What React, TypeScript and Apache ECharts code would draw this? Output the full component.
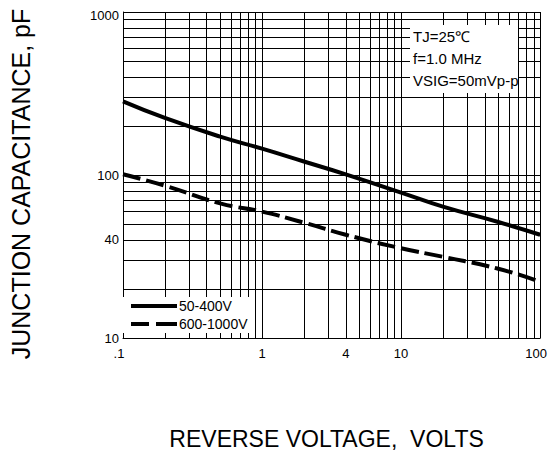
import React, { useEffect, useRef } from "react";
import * as echarts from "echarts";

const voltage = [0.1, 0.2, 0.5, 1, 2, 4, 10, 20, 50, 100];
const cap50to400 = [283, 224, 172, 145, 121, 101, 78, 64, 51.5, 43];
const cap600to1000 = [101, 86, 67, 59.6, 51, 43, 35.5, 31.5, 26.6, 22.1];
const seriesNames = ["50-400V", "600-1000V"];
const xTickLabels = [0.1, 1, 4, 10, 100];
const yTickLabels = [10, 40, 100, 1000];
const xGridValues = [0.2, 0.3, 0.4, 0.5, 0.6, 0.7, 0.8, 0.9, 2, 3, 4, 5, 6, 7, 8, 9, 20, 30, 40, 50, 60, 70, 80, 90];
const yGridValues = [20, 30, 40, 50, 60, 70, 80, 90, 200, 300, 400, 500, 600, 700, 800, 900];
const notes = ["TJ=25℃", "f=1.0 MHz", "VSIG=50mVp-p"];
const xName = "REVERSE VOLTAGE,  VOLTS";
const yName = "JUNCTION CAPACITANCE, pF";

const FONT = "'Liberation Sans', Arial, Helvetica, sans-serif";

const fmt = (v: number) => {
  if (v < 1) return "." + Math.round(v * 10);
  return String(Math.round(v));
};

export default function App() {
  const ref = useRef<HTMLDivElement>(null);
  useEffect(() => {
    if (!ref.current) return;
    document.body.style.margin = "0";
    const chart = echarts.init(ref.current, null, { renderer: "svg" });
    const pairs = (ys: number[]) => voltage.map((x, i) => [x, ys[i]]);
    const lbl = { fontSize: 13, fontFamily: FONT, color: "#000" };
    chart.setOption({
      animation: false,
      backgroundColor: "#fff",
      textStyle: { fontFamily: FONT, color: "#000" },
      grid: { left: 116, right: 7.3, top: 12, bottom: 110, containLabel: false },
      xAxis: {
        type: "log",
        min: 0.1,
        max: 100,
        logBase: 10,
        name: xName,
        nameLocation: "middle",
        nameGap: 89,
        nameTextStyle: { fontSize: 23, fontFamily: FONT, color: "#000", padding: [0, 10, 0, 0] },
        axisLine: { show: true, lineStyle: { color: "#000", width: 1 } },
        axisTick: { show: false },
        axisLabel: {
          customValues: xTickLabels,
          alignMinLabel: "center",
          alignMaxLabel: "center",
          formatter: (v: number) => {
            const s = fmt(v);
            if (v < 0.5 || v > 50) return "{s|" + s + "}";
            return s;
          },
          rich: {
            s: { ...lbl, padding: [0, 8, 0, 0] },
          },
          ...lbl,
          margin: 9,
        },
        splitLine: { show: true, lineStyle: { color: "#000", width: 1 } },
      },
      yAxis: {
        type: "log",
        min: 10,
        max: 1000,
        logBase: 10,
        name: yName,
        nameLocation: "middle",
        nameRotate: 90,
        nameGap: 90,
        nameTextStyle: { fontSize: 25, fontFamily: FONT, color: "#000", padding: [0, 18, 0, 0] },
        axisLine: { show: true, lineStyle: { color: "#000", width: 1 } },
        axisTick: { show: false },
        axisLabel: {
          customValues: yTickLabels,
          formatter: (v: number) => {
            const s = fmt(v);
            if (v > 500) return "{t|" + s + "}";
            return s;
          },
          rich: {
            t: { ...lbl, padding: [6, 0, 0, 0] },
          },
          ...lbl,
          margin: 4,
        },
        splitLine: { show: true, lineStyle: { color: "#000", width: 1 } },
      },
      legend: {
        data: [
          { name: seriesNames[0], icon: "path://M0,0H46V4H0Z" },
          { name: seriesNames[1], icon: "path://M0,0H18V4H0Z M25,0H46V4H25Z" },
        ],
        orient: "vertical",
        left: 116,
        top: 297,
        itemWidth: 46,
        itemHeight: 4,
        itemGap: 4,
        padding: [2, 2, 2, 15],
        backgroundColor: "#fff",
        itemStyle: { color: "#000" },
        textStyle: { fontSize: 14, fontFamily: FONT, color: "#000", padding: [0, 0, 0, -3] },
        z: 20,
      },
      series: [
        {
          name: "grid",
          type: "line",
          data: [],
          z: 1,
          silent: true,
          markLine: {
            silent: true,
            symbol: ["none", "none"],
            label: { show: false },
            lineStyle: { color: "#000", width: 1, type: "solid" },
            emphasis: { disabled: true },
            data: [
              ...xGridValues.map((v) => ({ xAxis: v })),
              ...yGridValues.map((v) => ({ yAxis: v })),
            ],
          },
        },
        {
          name: seriesNames[0],
          type: "line",
          data: pairs(cap50to400),
          smooth: true,
          showSymbol: false,
          symbol: "none",
          z: 5,
          lineStyle: { color: "#000", width: 4, type: "solid" },
          itemStyle: { color: "#000" },
        },
        {
          name: seriesNames[1],
          type: "line",
          data: pairs(cap600to1000),
          smooth: true,
          showSymbol: false,
          symbol: "none",
          z: 5,
          lineStyle: { color: "#000", width: 4, type: [18, 6] },
          itemStyle: { color: "#000" },
        },
      ],
      graphic: [
        {
          type: "rect",
          z: 100,
          shape: { x: 410, y: 25, width: 108, height: 68 },
          style: { fill: "#fff" },
        },
        ...notes.map((t, i) => ({
          type: "text",
          z: 101,
          x: 413,
          y: 36.7 + i * 21.7,
          style: {
            text: t,
            fontSize: 15,
            fontFamily: FONT,
            fill: "#000",
            verticalAlign: "middle",
            align: "left",
          },
        })),
      ],
    });
    return () => chart.dispose();
  }, []);
  return <div ref={ref} style={{ width: 550, height: 455 }} />;
}
